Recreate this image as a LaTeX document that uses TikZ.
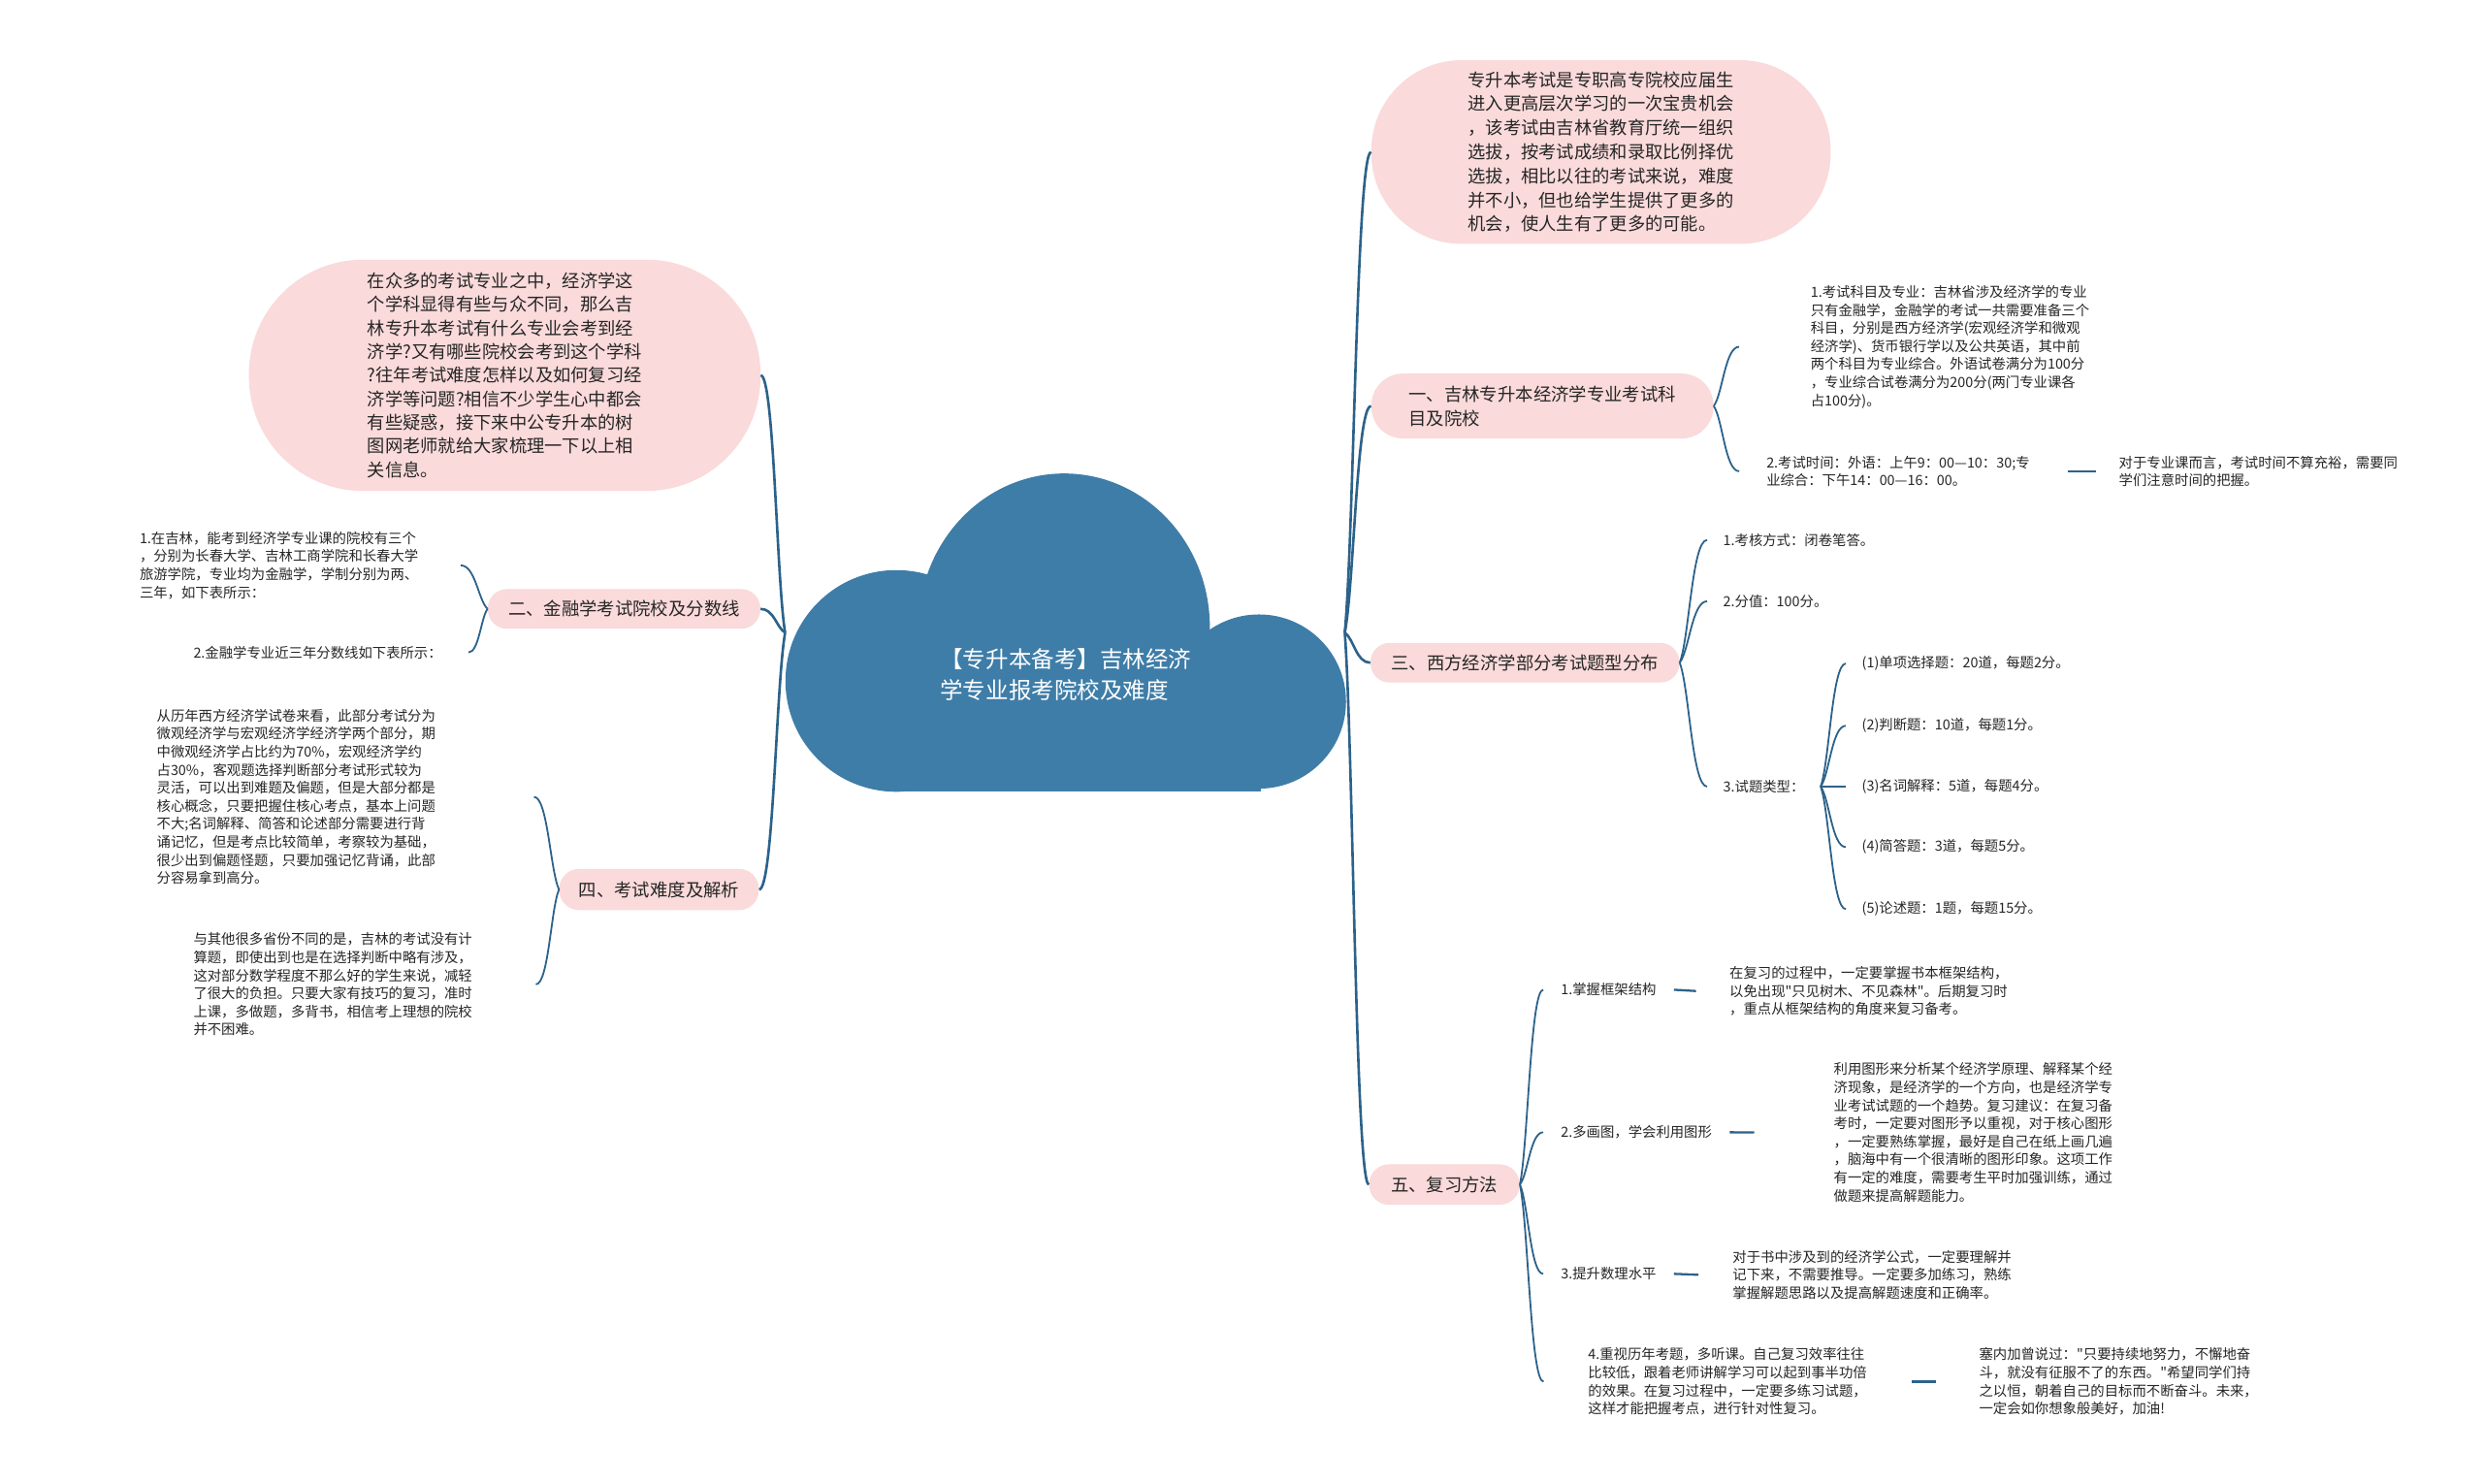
\documentclass[tikz,border=0pt]{standalone}
\usepackage{fontspec}
\setmainfont{Noto Sans CJK SC}
\newfontfamily\cjkf{Noto Sans CJK SC}
\usetikzlibrary{calc}
\definecolor{pinkc}{RGB}{250,218,218}
\definecolor{linec}{RGB}{44,98,138}
\definecolor{cloudc}{RGB}{62,125,168}
\definecolor{txtc}{RGB}{38,38,38}
\begin{document}
\begin{tikzpicture}[x=1pt,y=1pt,
  mmcurve/.style={to path={let \p1=(\tikztostart), \p2=(\tikztotarget) in .. controls ({\x1+0.35*(\x2-\x1)},{\y1+0.2*(\y2-\y1)}) and ({\x1+0.45*(\x2-\x1)},{\y2}) .. (\tikztotarget) \tikztonodes}},
  trunk/.style={draw=linec, line width=1.6pt, mmcurve},
  branch/.style={draw=linec, line width=1.1pt, mmcurve},
  dashc/.style={draw=linec, line width=1.4pt},
  bubble/.style={fill=pinkc, text=txtc, inner sep=0pt, align=left, font=\cjkf\fontsize{11.2}{15.2}\selectfont},
  lvl/.style={fill=pinkc, text=txtc, inner sep=0pt, align=left, font=\cjkf\fontsize{11.25}{15.4}\selectfont},
  leaf/.style={text=txtc, inner sep=0pt, align=left, anchor=west, font=\cjkf\fontsize{8.8}{11.4}\selectfont},
  rootbox/.style={inner sep=0pt, minimum width=353pt, minimum height=201pt, draw=none},
  titletext/.style={text=white, inner sep=0pt, align=left, font=\cjkf\fontsize{14.4}{20}\selectfont},
]
\useasboundingbox[fill=white] (0,0) rectangle (1568,-937);

% central cloud
\fill[cloudc] (566,-430) circle[radius=70];
\fill[cloudc] (672,-396) ellipse[x radius=92, y radius=97];
\fill[cloudc] (795,-443) circle[radius=55];
\fill[cloudc] (565,-500) rectangle (796,-425);
\node[rootbox] (root) at (672.5,-399.5) {};
\node[titletext] (title) at (673,-426) {【专升本备考】吉林经济\\学专业报考院校及难度};

% first-level nodes
\node[bubble, minimum width=290pt, minimum height=116pt, rounded corners=57pt] (top) at (1011,-96)
 {专升本考试是专职高专院校应届生\\进入更高层次学习的一次宝贵机会\\，该考试由吉林省教育厅统一组织\\选拔，按考试成绩和录取比例择优\\选拔，相比以往的考试来说，难度\\并不小，但也给学生提供了更多的\\机会，使人生有了更多的可能。};
\node[bubble, minimum width=323pt, minimum height=146pt, rounded corners=72pt, font=\cjkf\fontsize{11.2}{14.9}\selectfont] (intro) at (318.7,-237)
 {在众多的考试专业之中，经济学这\\个学科显得有些与众不同，那么吉\\林专升本考试有什么专业会考到经\\济学?又有哪些院校会考到这个学科\\?往年考试难度怎样以及如何复习经\\济学等问题?相信不少学生心中都会\\有些疑惑，接下来中公专升本的树\\图网老师就给大家梳理一下以上相\\关信息。};
\node[lvl, minimum width=216pt, minimum height=41pt, rounded corners=20pt] (n1) at (974,-256.4) {一、吉林专升本经济学专业考试科\\目及院校};
\node[lvl, minimum width=172pt, minimum height=25pt, rounded corners=12pt] (n2) at (394.1,-384.5) {二、金融学考试院校及分数线};
\node[lvl, minimum width=195pt, minimum height=25pt, rounded corners=12pt] (n3) at (963,-418.5) {三、西方经济学部分考试题型分布};
\node[lvl, minimum width=126pt, minimum height=26pt, rounded corners=12.5pt] (n4) at (416.2,-561.7) {四、考试难度及解析};
\node[lvl, minimum width=95pt, minimum height=25.5pt, rounded corners=12.5pt] (n5) at (912.1,-748) {五、复习方法};

% leaves of 一
\node[leaf] (t11) at (1143.2,-219) {1.考试科目及专业：吉林省涉及经济学的专业\\只有金融学，金融学的考试一共需要准备三个\\科目，分别是西方经济学(宏观经济学和微观\\经济学)、货币银行学以及公共英语，其中前\\两个科目为专业综合。外语试卷满分为100分\\，专业综合试卷满分为200分(两门专业课各\\占100分)。};
\node[leaf] (t12) at (1115.3,-297.6) {2.考试时间：外语：上午9：00—10：30;专\\业综合：下午14：00—16：00。};
\node[leaf] (t121) at (1337.9,-297.6) {对于专业课而言，考试时间不算充裕，需要同\\学们注意时间的把握。};

% leaves of 三
\node[leaf] (t31) at (1088,-341) {1.考核方式：闭卷笔答。};
\node[leaf] (t32) at (1088,-379.7) {2.分值：100分。};
\node[leaf] (t33) at (1088,-496.7) {3.试题类型：};
\node[leaf] (t331) at (1175.6,-419) {(1)单项选择题：20道，每题2分。};
\node[leaf] (t332) at (1175.6,-458.3) {(2)判断题：10道，每题1分。};
\node[leaf] (t333) at (1175.6,-496.7) {(3)名词解释：5道，每题4分。};
\node[leaf] (t334) at (1175.6,-534.9) {(4)简答题：3道，每题5分。};
\node[leaf] (t335) at (1175.6,-574.1) {(5)论述题：1题，每题15分。};

% leaves of 五
\node[leaf] (t51) at (985.5,-625) {1.掌握框架结构};
\node[leaf] (t511) at (1092,-625.8) {在复习的过程中，一定要掌握书本框架结构，\\以免出现"只见树木、不见森林"。后期复习时\\，重点从框架结构的角度来复习备考。};
\node[leaf] (t52) at (985.5,-715) {2.多画图，学会利用图形};
\node[leaf] (t521) at (1157.8,-715.1) {利用图形来分析某个经济学原理、解释某个经\\济现象，是经济学的一个方向，也是经济学专\\业考试试题的一个趋势。复习建议：在复习备\\考时，一定要对图形予以重视，对于核心图形\\，一定要熟练掌握，最好是自己在纸上画几遍\\，脑海中有一个很清晰的图形印象。这项工作\\有一定的难度，需要考生平时加强训练，通过\\做题来提高解题能力。};
\node[leaf] (t53) at (985.5,-804.4) {3.提升数理水平};
\node[leaf] (t531) at (1094,-805) {对于书中涉及到的经济学公式，一定要理解并\\记下来，不需要推导。一定要多加练习，熟练\\掌握解题思路以及提高解题速度和正确率。};
\node[leaf] (t54) at (1002.7,-872.5) {4.重视历年考题，多听课。自己复习效率往往\\比较低，跟着老师讲解学习可以起到事半功倍\\的效果。在复习过程中，一定要多练习试题，\\这样才能把握考点，进行针对性复习。};
\node[leaf] (t541) at (1249.6,-872.5) {塞内加曾说过："只要持续地努力，不懈地奋\\斗，就没有征服不了的东西。"希望同学们持\\之以恒，朝着自己的目标而不断奋斗。未来，\\一定会如你想象般美好，加油!};

% leaves of 二
\node[leaf] (t21) at (88,-357) {1.在吉林，能考到经济学专业课的院校有三个\\，分别为长春大学、吉林工商学院和长春大学\\旅游学院，专业均为金融学，学制分别为两、\\三年，如下表所示：};
\node[leaf] (t22) at (122,-412) {2.金融学专业近三年分数线如下表所示：};

% leaves of 四
\node[leaf] (t41) at (98.8,-503.2) {从历年西方经济学试卷来看，此部分考试分为\\微观经济学与宏观经济学经济学两个部分，期\\中微观经济学占比约为70\%，宏观经济学约\\占30\%，客观题选择判断部分考试形式较为\\灵活，可以出到难题及偏题，但是大部分都是\\核心概念，只要把握住核心考点，基本上问题\\不大;名词解释、简答和论述部分需要进行背\\诵记忆，但是考点比较简单，考察较为基础，\\很少出到偏题怪题，只要加强记忆背诵，此部\\分容易拿到高分。};
\node[leaf] (t42) at (122,-621.6) {与其他很多省份不同的是，吉林的考试没有计\\算题，即使出到也是在选择判断中略有涉及，\\这对部分数学程度不那么好的学生来说，减轻\\了很大的负担。只要大家有技巧的复习，准时\\上课，多做题，多背书，相信考上理想的院校\\并不困难。};

% trunk connectors
\draw[trunk] (root.east) to (top.west);
\draw[trunk] (root.east) to (n1.west);
\draw[trunk] (root.east) to (n3.west);
\draw[trunk] (root.east) to (n5.west);
\draw[trunk] (root.west) to (intro.east);
\draw[trunk] (root.west) to (n2.east);
\draw[trunk] (root.west) to (n4.east);

% branch connectors
\draw[branch] (n1.east) to ([xshift=-45pt]t11.west);
\draw[branch] (n1.east) to ([xshift=-17pt]t12.west);
\draw[dashc] ([xshift=23.7pt]t12.east) -- ([xshift=-14.3pt]t121.west);

\draw[branch] (n3.east) to ([xshift=-10pt]t31.west);
\draw[branch] (n3.east) to ([xshift=-10pt]t32.west);
\draw[branch] (n3.east) to ([xshift=-10pt]t33.west);
\draw[branch] ([xshift=10pt]t33.east) to ([xshift=-10pt]t331.west);
\draw[branch] ([xshift=10pt]t33.east) to ([xshift=-10pt]t332.west);
\draw[branch] ([xshift=10pt]t33.east) to ([xshift=-10pt]t333.west);
\draw[branch] ([xshift=10pt]t33.east) to ([xshift=-10pt]t334.west);
\draw[branch] ([xshift=10pt]t33.east) to ([xshift=-10pt]t335.west);

\draw[branch] (n5.east) to ([xshift=-11pt]t51.west);
\draw[branch] (n5.east) to ([xshift=-11pt]t52.west);
\draw[branch] (n5.east) to ([xshift=-11pt]t53.west);
\draw[branch] (n5.east) to ([xshift=-28pt]t54.west);
\draw[dashc] ([xshift=11pt]t51.east) -- ([xshift=-21pt]t511.west);
\draw[dashc] ([xshift=11pt]t52.east) -- ([xshift=-50pt]t521.west);
\draw[dashc] ([xshift=11pt]t53.east) -- ([xshift=-21.5pt]t531.west);
\draw[dashc] ([xshift=28pt]t54.east) -- ([xshift=-27pt]t541.west);

\draw[branch] (n2.west) to ([xshift=26.5pt]t21.east);
\draw[branch] (n2.west) to ([xshift=16.5pt]t22.east);
\draw[branch] (n4.west) to ([xshift=62pt]t41.east);
\draw[branch] (n4.west) to ([xshift=40pt]t42.east);
\end{tikzpicture}
\end{document}
